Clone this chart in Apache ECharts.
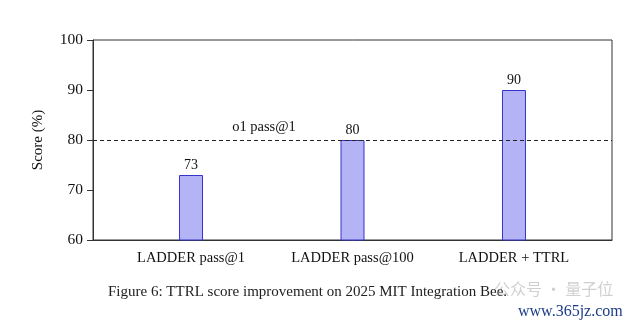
<!DOCTYPE html>
<html>
<head>
<meta charset="utf-8">
<script src="https://cdn.jsdelivr.net/npm/echarts@6/dist/echarts.min.js"></script>
<style>
html,body{margin:0;padding:0;background:#fff;}
#c{width:640px;height:330px;}
</style>
</head>
<body>
<div id="c"></div>
<script>
var categories = ['LADDER pass@1', 'LADDER pass@100', 'LADDER + TTRL'];
var scores = [73, 80, 90];
var baselineValue = 80;
var baselineLabel = 'o1 pass@1';
var yTicks = [60, 70, 80, 90, 100];
var caption = 'Figure 6: TTRL score improvement on 2025 MIT Integration Bee.';

var serif = '"Liberation Serif", "DejaVu Serif", serif';
var chart = echarts.init(document.getElementById('c'));
var barData = scores.map(function (v, i) { return [i, v]; });

chart.setOption({
  animation: false,
  backgroundColor: '#fff',
  grid: { left: 93, right: 28, top: 40, height: 200, show: true, borderColor: '#333', borderWidth: 1, backgroundColor: 'transparent' },
  xAxis: {
    type: 'value',
    min: -0.607,
    max: 2.607,
    splitLine: { show: false },
    axisLine: { show: true, onZero: false, lineStyle: { color: '#333' } },
    axisTick: { show: false },
    axisLabel: {
      customValues: categories.map(function (c, i) { return i; }),
      formatter: function (v) { return categories[Math.round(v)]; },
      color: '#111', fontFamily: serif, fontSize: 14.5, margin: 11
    }
  },
  yAxis: {
    type: 'value',
    min: yTicks[0],
    max: yTicks[yTicks.length - 1],
    interval: 10,
    name: 'Score (%)',
    nameLocation: 'middle',
    nameGap: 47,
    nameTextStyle: { color: '#111', fontFamily: serif, fontSize: 15 },
    splitLine: { show: false },
    axisLine: { show: true, onZero: false, lineStyle: { color: '#333' } },
    axisTick: { show: true, length: 6, lineStyle: { color: '#333' } },
    axisLabel: { color: '#111', fontFamily: serif, fontSize: 15.5, margin: 10 }
  },
  series: [{
    type: 'bar',
    data: barData,
    barWidth: 24,
    itemStyle: { color: '#b3b3f6', borderColor: '#3535cc', borderWidth: 1 },
    label: { show: true, position: 'top', distance: 3, color: '#111', fontFamily: serif, fontSize: 14,
      formatter: function (p) { return p.value[1]; } },
    markLine: {
      symbol: 'none',
      silent: true,
      lineStyle: { color: '#222', type: [4, 3], width: 1 },
      label: { show: false },
      data: [{ yAxis: baselineValue }]
    },
    markPoint: {
      symbol: 'circle',
      symbolSize: 1,
      itemStyle: { color: 'rgba(0,0,0,0)' },
      label: { show: true, position: 'inside', color: '#111', fontFamily: serif, fontSize: 14.5, offset: [0, -13],
        formatter: baselineLabel },
      data: [{ coord: [0.452, baselineValue] }]
    }
  }],
  graphic: [
    { type: 'text', left: 108, top: 285, style: { text: caption, fill: '#222', font: '15px ' + serif }, z: 10 },
    { type: 'text', left: 494, top: 281, style: { text: '公众号 · 量子位', fill: 'rgba(150,150,150,0.45)', font: '16px "Noto Sans CJK SC"' }, z: 11 },
    { type: 'text', left: 518, top: 304, style: { text: 'www.365jz.com', fill: '#1c3c88', font: '16px ' + serif }, z: 12 }
  ]
});
</script>
</body>
</html>
